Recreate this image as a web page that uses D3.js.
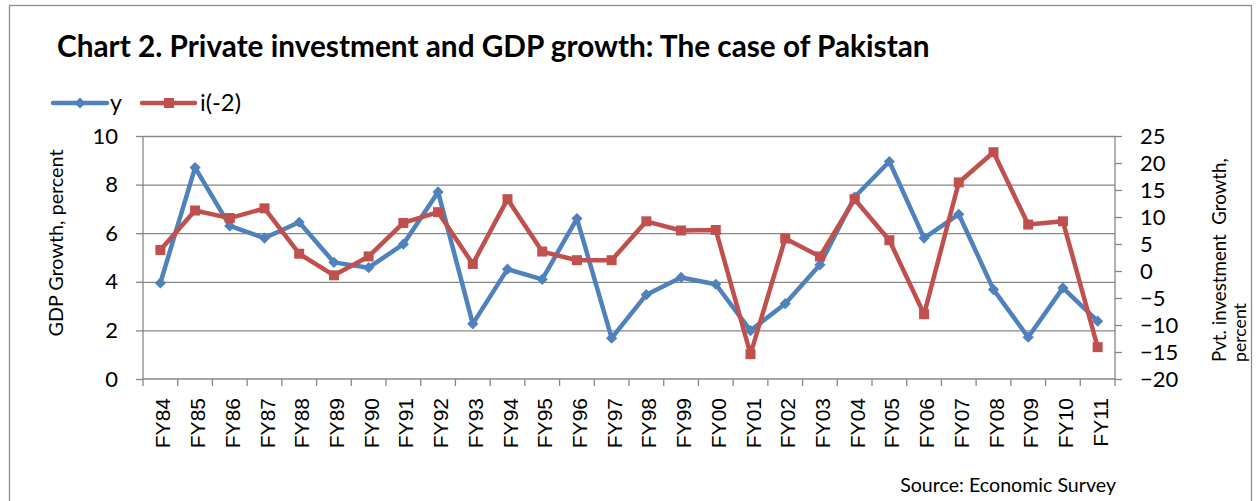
<!DOCTYPE html>
<html>
<head>
<meta charset="utf-8">
<script src="https://cdn.jsdelivr.net/npm/d3@7"></script>
<style>
  body { margin: 0; background: #fff; }
  svg { display: block; }
</style>
</head>
<body>
<div id="chart-area"></div>
<script>
// data
var years = ["FY84","FY85","FY86","FY87","FY88","FY89","FY90","FY91","FY92","FY93",
             "FY94","FY95","FY96","FY97","FY98","FY99","FY00","FY01","FY02","FY03",
             "FY04","FY05","FY06","FY07","FY08","FY09","FY10","FY11"]
var gdp = [3.95, 8.7, 6.3, 5.8, 6.45, 4.8, 4.58, 5.55, 7.7, 2.27,
           4.52, 4.1, 6.6, 1.68, 3.47, 4.18, 3.9, 1.99, 3.1, 4.7,
           7.49, 8.95, 5.8, 6.78, 3.68, 1.72, 3.75, 2.38]
var inv = [3.9, 11.2, 9.8, 11.6, 3.2, -0.8, 2.7, 8.9, 10.9, 1.3,
           13.3, 3.6, 2.0, 2.0, 9.2, 7.5, 7.6, -15.4, 6.0, 2.7,
           13.3, 5.7, -8.0, 16.4, 22.0, 8.6, 9.2, -14.1]
var leftTicks = [0, 2, 4, 6, 8, 10]
var rightTicks = [-20, -15, -10, -5, 0, 5, 10, 15, 20, 25]

var W = 1257, H = 501
var margin = { left: 143, right: 142, top: 136, bottom: 122 }
var width = W - margin.left - margin.right,
    height = H - margin.top - margin.bottom

var blue = "#4F81BD", red = "#C0504D", grid = "#878787"
var calibri = "Lato, 'Open Sans', sans-serif"
var arial = "'Liberation Sans', Arial, sans-serif"

// scale a text's font size so it covers the wanted length
function fit(sel, target) {
    var size = parseFloat(sel.attr("font-size"))
    var len = sel.node().getComputedTextLength()
    sel.attr("font-size", (size * target / len).toFixed(2) + "px")
    return sel
}

var svg = d3.select("#chart-area")
    .append("svg")
        .attr("width", W)
        .attr("height", H)

// outer frame
svg.append("rect")
    .attr("x", 9.5).attr("y", 5.5)
    .attr("width", 1242).attr("height", 520)
    .attr("fill", "none").attr("stroke", "#8c8c8c").attr("stroke-width", 1.3)

// title
fit(svg.append("text")
    .attr("x", 57).attr("y", 57)
    .attr("font-family", calibri).attr("font-weight", "bold")
    .attr("font-size", "28px").attr("fill", "#000")
    .text("Chart 2. Private investment and GDP growth: The case of Pakistan"), 873)

var g = svg.append("g")
    .attr("transform", "translate(" + margin.left + "," + margin.top + ")")

// scales
var x = d3.scaleBand().domain(years).range([0, width])
var yL = d3.scaleLinear().domain([0, 10]).range([height, 0])
var yR = d3.scaleLinear().domain([-20, 25]).range([height, 0])

// gridlines
g.append("g").selectAll("line")
    .data(leftTicks.slice(1))
    .enter().append("line")
        .attr("x1", 0).attr("x2", width)
        .attr("y1", function(d){ return yL(d) + 0.5 })
        .attr("y2", function(d){ return yL(d) + 0.5 })
        .attr("stroke", grid).attr("stroke-width", 1.3)

// left axis
var leftAxis = g.append("g")
    .call(d3.axisLeft(yL).tickValues(leftTicks).tickSize(7).tickPadding(18))
leftAxis.selectAll("line, path").attr("stroke", grid).attr("stroke-width", 1.3)
leftAxis.select(".domain").attr("d", "M0," + height + "V0")
leftAxis.selectAll("text")
    .attr("font-family", calibri).attr("font-size", "22px").attr("fill", "#000")

// right axis
var rightAxis = g.append("g")
    .attr("transform", "translate(" + width + ",0)")
    .call(d3.axisRight(yR).tickValues(rightTicks).tickSize(7).tickPadding(18))
rightAxis.selectAll("line, path").attr("stroke", grid).attr("stroke-width", 1.3)
rightAxis.select(".domain").attr("d", "M0," + height + "V0")
rightAxis.selectAll("text")
    .attr("font-family", calibri).attr("font-size", "22px").attr("fill", "#000")

// x axis with ticks on the band edges
var xAxis = g.append("g")
    .attr("transform", "translate(0," + height + ")")
xAxis.append("line")
    .attr("x1", 0).attr("x2", width)
    .attr("stroke", grid).attr("stroke-width", 1.3)
xAxis.selectAll(".edge")
    .data(years.concat(["end"]))
    .enter().append("line")
        .attr("class", "edge")
        .attr("x1", function(d, i){ return i * x.bandwidth() })
        .attr("x2", function(d, i){ return i * x.bandwidth() })
        .attr("y1", 0).attr("y2", 7)
        .attr("stroke", grid).attr("stroke-width", 1.3)
xAxis.selectAll(".lbl")
    .data(years)
    .enter().append("text")
        .attr("class", "lbl")
        .attr("transform", function(d){
            return "translate(" + (x(d) + x.bandwidth() / 2 + 10) + ",19) rotate(-90)" })
        .attr("text-anchor", "end")
        .attr("font-family", arial).attr("font-size", "21px").attr("fill", "#000")
        .text(function(d){ return d })

// lines
var lineL = d3.line()
    .x(function(d, i){ return x(years[i]) + x.bandwidth() / 2 })
    .y(function(d){ return yL(d) })
var lineR = d3.line()
    .x(function(d, i){ return x(years[i]) + x.bandwidth() / 2 })
    .y(function(d){ return yR(d) })

g.append("path").datum(gdp)
    .attr("d", lineL).attr("fill", "none")
    .attr("stroke", blue).attr("stroke-width", 4.5).attr("stroke-linejoin", "round")
g.selectAll(".dia")
    .data(gdp)
    .enter().append("path")
        .attr("class", "dia")
        .attr("d", d3.symbol().type(d3.symbolDiamond2).size(80))
        .attr("transform", function(d, i){
            return "translate(" + (x(years[i]) + x.bandwidth() / 2) + "," + yL(d) + ")" })
        .attr("fill", blue)

g.append("path").datum(inv)
    .attr("d", lineR).attr("fill", "none")
    .attr("stroke", red).attr("stroke-width", 4.5).attr("stroke-linejoin", "round")
g.selectAll(".sq")
    .data(inv)
    .enter().append("rect")
        .attr("class", "sq")
        .attr("x", function(d, i){ return x(years[i]) + x.bandwidth() / 2 - 5 })
        .attr("y", function(d){ return yR(d) - 5 })
        .attr("width", 10).attr("height", 10)
        .attr("fill", red)

// axis titles
fit(svg.append("text")
    .attr("transform", "translate(63,243) rotate(-90)")
    .attr("text-anchor", "middle")
    .attr("font-family", calibri).attr("font-size", "20px").attr("fill", "#000")
    .text("GDP Growth, percent"), 187)
fit(svg.append("text")
    .attr("transform", "translate(1226,362) rotate(-90)")
    .attr("font-family", calibri).attr("font-size", "20px").attr("fill", "#000")
    .attr("xml:space", "preserve")
    .text("Pvt. investment  Growth,"), 204)
fit(svg.append("text")
    .attr("transform", "translate(1246,362) rotate(-90)")
    .attr("font-family", calibri).attr("font-size", "20px").attr("fill", "#000")
    .text("percent"), 59)

// legend
var legend = svg.append("g").attr("transform", "translate(0,103)")
legend.append("line")
    .attr("x1", 53).attr("x2", 107)
    .attr("stroke", blue).attr("stroke-width", 4.5).attr("stroke-linecap", "round")
legend.append("path")
    .attr("d", d3.symbol().type(d3.symbolDiamond2).size(80))
    .attr("transform", "translate(80,0)")
    .attr("fill", blue)
legend.append("text")
    .attr("x", 110).attr("y", 8)
    .attr("font-family", calibri).attr("font-size", "23px")
    .text("y")
legend.append("line")
    .attr("x1", 142).attr("x2", 195)
    .attr("stroke", red).attr("stroke-width", 4.5).attr("stroke-linecap", "round")
legend.append("rect")
    .attr("x", 164).attr("y", -5).attr("width", 10).attr("height", 10)
    .attr("fill", red)
fit(legend.append("text")
    .attr("x", 200).attr("y", 8)
    .attr("font-family", calibri).attr("font-size", "23px")
    .text("i(-2)"), 41)

// source
fit(svg.append("text")
    .attr("x", 1116).attr("y", 492)
    .attr("text-anchor", "end")
    .attr("font-family", calibri).attr("font-size", "17px")
    .text("Source: Economic Survey"), 216)
</script>
</body>
</html>
